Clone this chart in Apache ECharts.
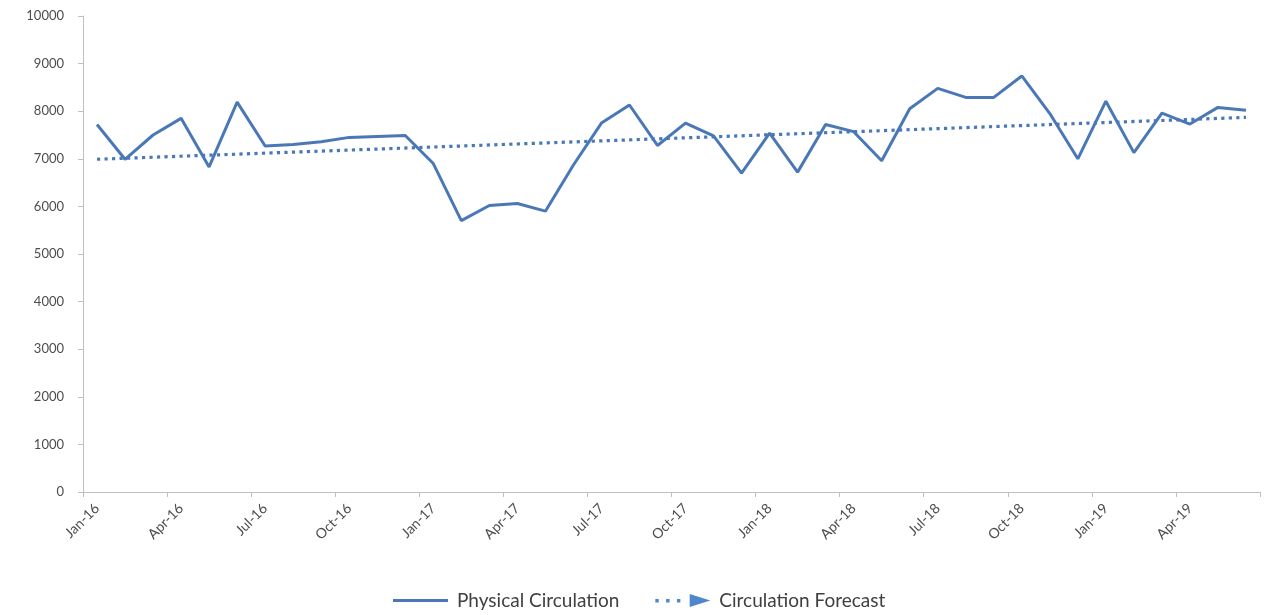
<!DOCTYPE html>
<html>
<head>
<meta charset="utf-8">
<script src="https://cdn.jsdelivr.net/npm/echarts@6/dist/echarts.min.js"></script>
<style>html,body{margin:0;padding:0;background:#fff}#c{width:1271px;height:615px}</style>
</head>
<body>
<div id="c"></div>
<script>
const months = [
  'Jan-16','Feb-16','Mar-16','Apr-16','May-16','Jun-16','Jul-16','Aug-16','Sep-16','Oct-16','Nov-16','Dec-16',
  'Jan-17','Feb-17','Mar-17','Apr-17','May-17','Jun-17','Jul-17','Aug-17','Sep-17','Oct-17','Nov-17','Dec-17',
  'Jan-18','Feb-18','Mar-18','Apr-18','May-18','Jun-18','Jul-18','Aug-18','Sep-18','Oct-18','Nov-18','Dec-18',
  'Jan-19','Feb-19','Mar-19','Apr-19','May-19','Jun-19'
];
const physicalCirculation = [
  7720, 6990, 7500, 7850, 6830, 8190, 7270, 7300, 7360, 7450, 7470, 7490,
  6900, 5700, 6020, 6060, 5900, 6870, 7750, 8130, 7280, 7750, 7480, 6700,
  7540, 6720, 7720, 7570, 6960, 8050, 8480, 8290, 8290, 8740, 7950, 7000,
  8210, 7130, 7960, 7730, 8080, 8020
];
// Trend line endpoints
const forecastPoints = [['Jan-16', 6990], ['Jun-19', 7870]];
const yMin = 0, yMax = 10000, yStep = 1000;

const blue = '#4a78b6';
const chart = echarts.init(document.getElementById('c'));
chart.setOption({
  animation: false,
  grid: { left: 83, right: 11, top: 16, bottom: 123, containLabel: false },
  legend: {
    bottom: 0,
    left: 388,
    itemGap: 36,
    itemWidth: 55,
    itemHeight: 14,
    textStyle: { fontFamily: 'Lato', fontSize: 19, color: '#404040', padding: [0, 0, 0, 4] },
    data: [
      { name: 'Physical Circulation',
        icon: 'path://M0 0h0.01v0.01h-0.01z M0 5.6h55v2.8h-55z M0 13.99h0.01v0.01h-0.01z',
        itemStyle: { color: blue } },
      { name: 'Circulation Forecast',
        icon: 'path://M0 5.5h3.5v3.5h-3.5z M11 5.5h3.5v3.5h-3.5z M22 5.5h3.5v3.5h-3.5z M35 0.5 L56 7 L35 13.5 z',
        itemStyle: { color: '#4f86cc' } }
    ]
  },
  xAxis: {
    type: 'category',
    data: months,
    boundaryGap: true,
    axisLine: { lineStyle: { color: '#bfbfbf', width: 1 } },
    axisTick: { show: true, interval: 2, alignWithLabel: false, length: 5, lineStyle: { color: '#bfbfbf' } },
    axisLabel: { interval: 2, rotate: 45, margin: 14, fontFamily: 'Lato', fontSize: 14, color: '#4d4d4d' },
    splitLine: { show: false }
  },
  yAxis: {
    type: 'value',
    min: yMin, max: yMax, interval: yStep,
    axisLine: { show: true, lineStyle: { color: '#bfbfbf', width: 1 } },
    axisTick: { show: true, length: 5, lineStyle: { color: '#bfbfbf' } },
    axisLabel: { margin: 19, fontFamily: 'Lato', fontSize: 13, color: '#4d4d4d', formatter: v => String(v) },
    splitLine: { show: false }
  },
  series: [
    {
      name: 'Physical Circulation',
      type: 'line',
      data: physicalCirculation,
      symbol: 'none',
      color: blue,
      lineStyle: { color: blue, width: 3 },
      z: 3
    },
    {
      name: 'Circulation Forecast',
      type: 'line',
      data: forecastPoints,
      symbol: 'none',
      color: '#4f86cc',
      lineStyle: { color: blue, width: 3.2, type: [3.2, 4.3], cap: 'butt' },
      z: 2
    }
  ]
});
</script>
</body>
</html>
